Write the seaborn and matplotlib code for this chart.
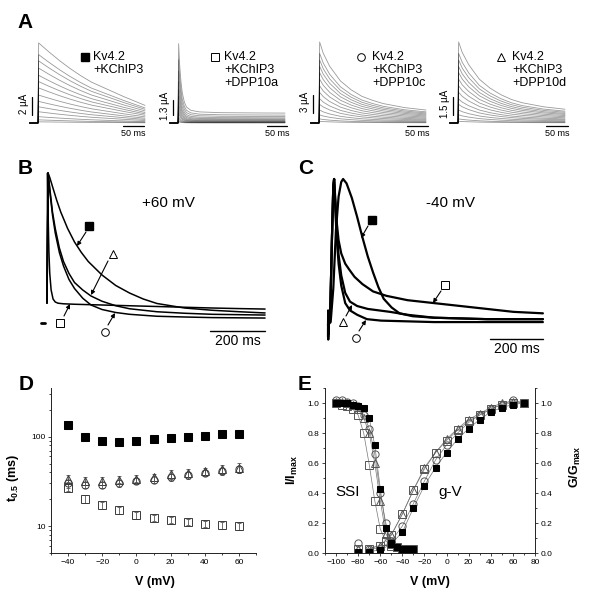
import numpy as np
import pandas as pd
import matplotlib
matplotlib.use("Agg")
import matplotlib.pyplot as plt
from matplotlib.ticker import MultipleLocator, FixedLocator, FuncFormatter, LogLocator, NullFormatter
import seaborn as sns

# ---------------- data ----------------
# Panel A: normalized decay shape of the largest sweep and sweep peaks (uA)
a_time = [-20, 0, 1.5, 10, 25, 50, 75, 100, 125, 150, 200, 250]
a1_shape = [0, 0, 1.0, 0.96, 0.89, 0.78, 0.68, 0.59, 0.51, 0.45, 0.33, 0.22]
a3_shape = [0, 0, 1.0, 0.86, 0.70, 0.52, 0.41, 0.33, 0.28, 0.24, 0.19, 0.16]
a4_shape = [0, 0, 1.0, 0.87, 0.72, 0.54, 0.43, 0.35, 0.29, 0.25, 0.20, 0.17]
a2_time = [-20, 0, 1.5, 4, 7, 10, 15, 20, 30, 50, 100, 150, 200, 250]
a2_shape = [0, 0, 1.0, 0.72, 0.52, 0.38, 0.26, 0.20, 0.16, 0.14, 0.13, 0.128, 0.126, 0.125]
a1_peaks = [8.9, 7.6, 6.9, 6.1, 5.3, 4.6, 3.9, 3.1, 2.4, 1.8, 1.25, 0.7, 0.35, 0.13]
a2_peaks = [6.9, 5.5, 4.5, 3.6, 2.9, 2.35, 1.85, 1.45, 1.1, 0.83, 0.55, 0.35, 0.2, 0.1]
a3_peaks = [13.5, 11.6, 10.5, 9.45, 8.4, 7.3, 6.2, 5.1, 4.05, 3.1, 2.15, 1.35, 0.68, 0.27]
a4_peaks = [6.75, 5.8, 5.25, 4.7, 4.2, 3.65, 3.1, 2.55, 2.0, 1.55, 1.08, 0.68, 0.34, 0.14]
a_legends = [["Kv4.2", "+KChIP3"], ["Kv4.2", "+KChIP3", "+DPP10a"],
             ["Kv4.2", "+KChIP3", "+DPP10c"], ["Kv4.2", "+KChIP3", "+DPP10d"]]
a_scale_labels = ["2 µA", "1.3 µA", "3 µA", "1.5 µA"]

# Panel B (+60 mV), normalized current vs time (ms)
b_sqf_t = [0, 4, 10, 20, 35, 50, 75, 100, 125, 150, 200, 250, 300, 350, 400, 500, 600, 700, 793]
b_sqf_y = [0.133, 1.0, 0.97, 0.91, 0.82, 0.74, 0.63, 0.54, 0.47, 0.41, 0.32, 0.25, 0.20, 0.16, 0.13, 0.10, 0.085, 0.075, 0.067]
b_tri_t = [0, 4, 10, 20, 30, 45, 60, 80, 100, 130, 160, 200, 250, 300, 400, 500, 600, 793]
b_tri_y = [0.133, 1.0, 0.90, 0.74, 0.63, 0.50, 0.41, 0.33, 0.27, 0.22, 0.18, 0.145, 0.115, 0.095, 0.075, 0.065, 0.058, 0.053]
b_cir_t = [0, 4, 10, 20, 30, 45, 60, 80, 100, 130, 160, 200, 250, 300, 400, 500, 600, 793]
b_cir_y = [0.133, 1.0, 0.88, 0.72, 0.60, 0.47, 0.38, 0.29, 0.23, 0.165, 0.12, 0.09, 0.07, 0.058, 0.045, 0.04, 0.036, 0.033]
b_sqo_t = [0, 2, 4, 7, 10, 15, 22, 30, 40, 60, 100, 200, 300, 400, 500, 600, 700, 793]
b_sqo_y = [0.133, 1.0, 0.72, 0.47, 0.33, 0.22, 0.16, 0.14, 0.132, 0.128, 0.125, 0.12, 0.115, 0.11, 0.105, 0.10, 0.096, 0.093]

# Panel C (-40 mV)
c_sqf_t = [0, 10, 20, 30, 40, 50, 57, 70, 90, 110, 130, 150, 170, 190, 210, 240, 270, 320, 400, 500, 600, 700, 811]
c_sqf_y = [0, 0.02, 0.25, 0.65, 0.88, 0.98, 1.0, 0.97, 0.87, 0.74, 0.60, 0.47, 0.36, 0.26, 0.18, 0.12, 0.08, 0.06, 0.05, 0.045, 0.04, 0.04, 0.04]
c_sqo_t = [0, 8, 15, 20, 23, 27, 32, 40, 50, 65, 80, 100, 130, 170, 220, 300, 400, 500, 600, 700, 811]
c_sqo_y = [0, 0.05, 0.6, 0.95, 1.0, 0.88, 0.72, 0.58, 0.49, 0.42, 0.38, 0.33, 0.28, 0.23, 0.20, 0.17, 0.15, 0.13, 0.11, 0.09, 0.08]
c_tri_t = [0, 8, 15, 20, 23, 27, 32, 40, 50, 65, 83, 110, 150, 234, 300, 400, 600, 811]
c_tri_y = [0, 0.05, 0.6, 0.95, 1.0, 0.85, 0.66, 0.48, 0.34, 0.22, 0.16, 0.13, 0.11, 0.09, 0.07, 0.05, 0.04, 0.04]
c_cir_t = [0, 8, 15, 20, 23, 27, 32, 40, 50, 65, 83, 110, 147, 200, 300, 400, 600, 811]
c_cir_y = [0, 0.05, 0.6, 0.95, 1.0, 0.83, 0.62, 0.42, 0.27, 0.15, 0.10, 0.07, 0.04, 0.03, 0.025, 0.02, 0.02, 0.02]
c_art_t = [0, 0.5, 1, 1.5, 2, 2.5, 3]
c_art_y = [-0.08, 0.10, -0.10, 0.08, -0.06, 0.05, 0]

# Panel D: t0.5 (ms) vs V
d_v = [-40, -30, -20, -10, 0, 10, 20, 30, 40, 50, 60]
d_sqf = [135, 100, 90, 88, 89, 93, 97, 100, 103, 106, 106]
d_tri = [34, 32, 32, 33, 34, 35, 38, 39, 41, 43, 45]
d_tri_err = [3, 3, 3, 3, 3, 3, 4, 4, 4, 5, 6]
d_cir = [30, 29, 29, 30, 32, 33, 35, 37, 39, 41, 43]
d_cir_err = [3, 2.5, 2.5, 2.5, 2.5, 3, 3, 3, 3, 4, 4]
d_sqo = [27, 20, 17, 15, 13.3, 12.3, 11.7, 11.2, 10.6, 10.2, 10.0]
d_sqo_err = [2.5, 2, 1.5, 1.3, 1.2, 1, 1, 0.9, 0.9, 0.9, 0.9]

# Panel E: SSI and g-V
ssi_v = [-100, -95, -90, -85, -80, -75, -70, -65, -60, -55, -50, -45, -40, -35, -30]
ssi_sqf = [1.0, 1.0, 1.0, 0.99, 0.98, 0.97, 0.90, 0.72, 0.43, 0.17, 0.07, 0.04, 0.03, 0.03, 0.03]
ssi_sqo = [1.0, 0.99, 0.98, 0.96, 0.92, 0.80, 0.59, 0.35, 0.16, 0.08, 0.05, 0.04, 0.03, 0.03, 0.03]
ssi_cir = [1.02, 1.02, 1.01, 1.0, 0.98, 0.92, 0.83, 0.66, 0.40, 0.20, 0.08, 0.04, 0.03, 0.03, 0.03]
ssi_tri = [1.01, 1.01, 1.0, 0.99, 0.96, 0.90, 0.80, 0.60, 0.35, 0.13, 0.06, 0.04, 0.03, 0.03, 0.03]
gv_v = [-80, -70, -60, -50, -40, -30, -20, -10, 0, 10, 20, 30, 40, 50, 60, 70]
gv_sqf = [0.01, 0.01, 0.02, 0.06, 0.14, 0.30, 0.45, 0.57, 0.67, 0.76, 0.83, 0.89, 0.94, 0.97, 0.99, 1.0]
gv_sqo = [0.03, 0.03, 0.05, 0.12, 0.26, 0.42, 0.56, 0.67, 0.75, 0.82, 0.88, 0.92, 0.96, 0.99, 1.0, 1.0]
gv_cir = [0.07, 0.03, 0.03, 0.08, 0.18, 0.33, 0.48, 0.62, 0.72, 0.80, 0.87, 0.92, 0.96, 0.99, 1.02, 1.0]
gv_tri = [0.03, 0.03, 0.05, 0.12, 0.26, 0.42, 0.57, 0.67, 0.76, 0.83, 0.89, 0.93, 0.97, 1.0, 1.01, 1.0]

# ---------------- style ----------------
sns.set_theme(style="ticks")
plt.rcParams["font.family"] = ["Liberation Sans", "DejaVu Sans"]
plt.rcParams["mathtext.fontset"] = "custom"
plt.rcParams["mathtext.rm"] = "Liberation Sans"
plt.rcParams["mathtext.bf"] = "Liberation Sans:bold"
plt.rcParams["mathtext.it"] = "Liberation Sans:italic"
plt.rcParams["text.color"] = "black"
plt.rcParams["axes.labelcolor"] = "black"

W, H = 590, 600
fig = plt.figure(figsize=(W / 100, H / 100), dpi=100)
fig.patch.set_facecolor("white")


def box(l, t, r, b):
    return fig.add_axes([l / W, 1 - b / H, (r - l) / W, (b - t) / H])


def trace_axes(l, t, r, b, x0, sx, y0, sy):
    ax = box(l, t, r, b)
    ax.set_xlim((l - x0) / sx, (r - x0) / sx)
    ax.set_ylim((y0 - b) / sy, (y0 - t) / sy)
    ax.axis("off")
    return ax


# ---------------- Panel A ----------------
a_cfg = [(38, 9.0), (178, 11.5), (319, 6.0), (458, 12.0)]  # x0 px, px per uA
a_shapes = [(a_time, a1_shape, a1_peaks), (a2_time, a2_shape, a2_peaks),
            (a_time, a3_shape, a3_peaks), (a_time, a4_shape, a4_peaks)]
for (x0, sy), (tt, shp, pk) in zip(a_cfg, a_shapes):
    ax = trace_axes(x0 - 14, 35, x0 + 115, 130, x0, 0.428, 123, sy)
    rows = []
    for k, p in enumerate(pk):
        for t, s in zip(tt, shp):
            rows.append((k, t, p * s))
    df = pd.DataFrame(rows, columns=["sweep", "t", "I"])
    sns.lineplot(data=df, x="t", y="I", units="sweep", estimator=None, sort=False,
                 color="black", alpha=0.4, lw=0.6, ax=ax, legend=False)

# ---------------- Panel B ----------------
axB = trace_axes(35, 160, 280, 350, 47, 0.275, 323, 150)
dfB = pd.concat([pd.DataFrame({"t": t, "I": y, "k": n}) for n, (t, y) in enumerate(
    [(b_sqf_t, b_sqf_y), (b_tri_t, b_tri_y), (b_cir_t, b_cir_y), (b_sqo_t, b_sqo_y)])])
sns.lineplot(data=dfB, x="t", y="I", units="k", estimator=None, sort=False,
             color="black", lw=1.1, ax=axB, legend=False)

# ---------------- Panel C ----------------
axC = trace_axes(318, 160, 555, 358, 328, 0.265, 325, 146)
dfC = pd.concat([pd.DataFrame({"t": t, "I": y, "k": n}) for n, (t, y) in enumerate(
    [(c_sqf_t, c_sqf_y), (c_sqo_t, c_sqo_y), (c_tri_t, c_tri_y), (c_cir_t, c_cir_y),
     (c_art_t, c_art_y)])])
sns.lineplot(data=dfC, x="t", y="I", units="k", estimator=None, sort=False,
             color="black", lw=1.6, ax=axC, legend=False)

# ---------------- Panel D ----------------
tick_kw = dict(labelsize=6, length=2.5, width=0.6, pad=1.5, color="#222222", labelcolor="black")
axD = box(51, 388, 256, 553)
axD.set_yscale("log")
axD.set_xlim(-50, 70)
axD.set_ylim(5, 350)
for yy, ee, mk in [(d_tri, d_tri_err, "^"), (d_cir, d_cir_err, "o"), (d_sqo, d_sqo_err, "s")]:
    axD.errorbar(d_v, yy, yerr=ee, fmt="none", ecolor="#555555", elinewidth=0.6,
                 capsize=1.5, capthick=0.6)
    sns.lineplot(x=d_v, y=yy, marker=mk, linestyle="none", mfc="none", mec="#3a3a3a",
                 mew=0.7, ms=5.2, errorbar=None, ax=axD)
sns.lineplot(x=d_v, y=d_sqf, marker="s", linestyle="none", color="black", mec="black",
             ms=5.2, errorbar=None, ax=axD)
axD.set_xticks([-40, -20, 0, 20, 40, 60])
axD.xaxis.set_minor_locator(MultipleLocator(10))
axD.yaxis.set_major_locator(FixedLocator([10, 100]))
axD.yaxis.set_major_formatter(FuncFormatter(lambda v, p: f"{v:g}"))
axD.yaxis.set_minor_locator(LogLocator(base=10, subs=range(2, 10)))
axD.yaxis.set_minor_formatter(NullFormatter())
axD.tick_params(which="both", **tick_kw)
axD.tick_params(which="minor", length=1.5)
sns.despine(ax=axD)
for s in ["left", "bottom"]:
    axD.spines[s].set_linewidth(0.7)
    axD.spines[s].set_color("#222222")
axD.set_xlabel("")
axD.set_ylabel("")

# ---------------- Panel E ----------------
axE = box(325, 388, 535, 553)
axE.set_xlim(-110, 80)
axE.set_ylim(0, 1.1)
series = [(ssi_v, ssi_sqo, gv_sqo, "s", False), (ssi_v, ssi_tri, gv_tri, "^", False),
          (ssi_v, ssi_cir, gv_cir, "o", False), (ssi_v, ssi_sqf, gv_sqf, "s", True)]
for sv, sy_, gy, mk, filled in series:
    for xv, yv in [(sv, sy_), (gv_v[1:], gy[1:])]:
        sns.lineplot(x=xv, y=yv, color="#777777", lw=0.5, errorbar=None, ax=axE)
for sv, sy_, gy, mk, filled in series:
    for xv, yv in [(sv, sy_), (gv_v, gy)]:
        if filled:
            sns.lineplot(x=xv, y=yv, marker=mk, linestyle="none", color="black",
                         mec="black", ms=4.8, errorbar=None, ax=axE)
        else:
            sns.lineplot(x=xv, y=yv, marker=mk, linestyle="none", mfc="none",
                         mec="#555555", mew=0.7, ms=5.2, errorbar=None, ax=axE)
axE.set_xticks(range(-100, 81, 20))
axE.xaxis.set_minor_locator(MultipleLocator(10))
axE.set_yticks([0, 0.2, 0.4, 0.6, 0.8, 1.0])
axE.yaxis.set_major_formatter(FuncFormatter(lambda v, p: f"{v:.1f}"))
axE.yaxis.set_minor_locator(MultipleLocator(0.1))
axE.tick_params(which="both", **tick_kw)
axE.tick_params(which="minor", length=1.5)
axE.spines["top"].set_visible(False)
axE.spines["right"].set_visible(False)
for s in ["left", "bottom"]:
    axE.spines[s].set_linewidth(0.7)
    axE.spines[s].set_color("#222222")
axE.set_xlabel("")
axE.set_ylabel("")
axE2 = axE.twinx()
axE2.set_ylim(0, 1.1)
axE2.set_yticks([0, 0.2, 0.4, 0.6, 0.8, 1.0])
axE2.yaxis.set_major_formatter(FuncFormatter(lambda v, p: f"{v:.1f}"))
axE2.yaxis.set_minor_locator(MultipleLocator(0.1))
axE2.tick_params(which="both", **tick_kw)
axE2.tick_params(which="minor", length=1.5)
for s in ["top", "left", "bottom"]:
    axE2.spines[s].set_visible(False)
axE2.spines["right"].set_linewidth(0.7)
axE2.spines["right"].set_color("#222222")
axE2.grid(False)

# ---------------- overlay (annotations in pixel coords) ----------------
ov = fig.add_axes([0, 0, 1, 1], zorder=10)
ov.set_xlim(0, W)
ov.set_ylim(H, 0)
ov.axis("off")
ov.patch.set_alpha(0)


def txt(x, y, s, size=9, **kw):
    kw.setdefault("ha", "center")
    kw.setdefault("va", "center")
    ov.text(x, y, s, fontsize=size, color="black", **kw)


def mark(x, y, m, filled=False, ms=5.5):
    if filled:
        ov.plot([x], [y], marker=m, ms=ms, color="black", mec="black", ls="none")
    else:
        ov.plot([x], [y], marker=m, ms=ms, mfc="white", mec="black", mew=0.7, ls="none")


def arrow(x1, y1, x2, y2):
    ov.annotate("", xy=(x2, y2), xytext=(x1, y1),
                arrowprops=dict(arrowstyle="-|>", lw=0.8, color="black",
                                mutation_scale=6, shrinkA=0, shrinkB=0))


# panel letters
for s, x, y in [("A", 25, 22), ("B", 25, 168), ("C", 306, 168), ("D", 26, 385), ("E", 305, 384)]:
    txt(x, y, s, size=15, fontweight="bold")

# Panel A legends and scale bars
leg_pos = [(85, 93, "s", True), (215, 224, "s", False), (361, 372, "o", False), (501, 512, "^", False)]
for (mx, tx, m, f), lines in zip(leg_pos, a_legends):
    mark(mx, 57, m, f, ms=5.5)
    for i, line in enumerate(lines):
        txt(tx, 57 + 13 * i, line, size=9, ha="left")
vbars = [(32.3, 96.7, 115, 24), (173.3, 100, 115, 165), (312.7, 95, 113, 305), (453.3, 96.7, 115, 445)]
for (x, y1, y2, lx), lab in zip(vbars, a_scale_labels):
    ov.plot([x, x], [y1, y2], color="black", lw=0.9)
    txt(lx, (y1 + y2) / 2 - 2, lab, size=7, rotation=90)
for x1, x2 in [(122.7, 144), (267, 287), (406.7, 428.3), (546, 568)]:
    ov.plot([x1, x2], [126, 126], color="black", lw=0.9)
    txt((x1 + x2) / 2, 134, "50 ms", size=6.5)

# Panel B annotations
txt(168, 203, "+60 mV", size=11)
ov.plot([210, 265], [331, 331], color="black", lw=1.0)
txt(237.5, 341, "200 ms", size=10)
ov.plot([41, 45], [323, 323], color="black", lw=2.0)
mark(89, 226, "s", True)
arrow(86, 232, 77, 246)
mark(113, 254, "^")
arrow(108, 261, 91, 295)
mark(60, 323, "s")
arrow(64, 316, 70, 304)
mark(105, 332, "o")
arrow(108, 325, 115, 313)

# Panel C annotations
txt(450, 203, "-40 mV", size=11)
ov.plot([490, 543], [339, 339], color="black", lw=1.0)
txt(516.5, 349, "200 ms", size=10)
mark(372, 220, "s", True)
arrow(368, 226, 361, 238)
mark(445, 285, "s")
arrow(441, 291, 433, 303)
mark(343, 322, "^")
arrow(346, 316, 352, 305)
mark(356, 338, "o")
arrow(359, 331, 366, 320)

# Panel D / E axis labels
txt(13, 478, r"$\mathbf{t_{0.5}}$ (ms)", size=9, rotation=90, fontweight="bold")
txt(155, 582, "V (mV)", size=9, fontweight="bold")
txt(430, 582, "V (mV)", size=9, fontweight="bold")
txt(292, 470, r"$\mathbf{I/I_{max}}$", size=9, rotation=90)
txt(575, 467, r"$\mathbf{G/G_{max}}$", size=9, rotation=90)
txt(348, 492, "SSI", size=11)
txt(450, 492, "g-V", size=11)

fig.savefig("out.png", dpi=100)
